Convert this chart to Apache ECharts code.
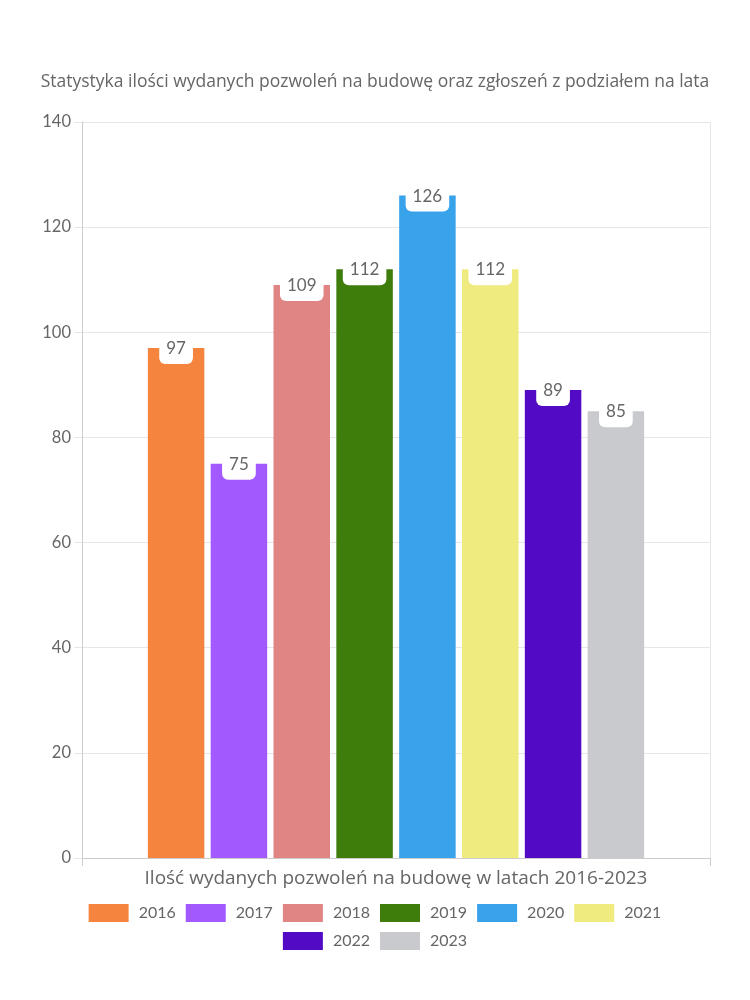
<!DOCTYPE html>
<html><head><meta charset="utf-8">
<script src="https://cdn.jsdelivr.net/npm/echarts@6/dist/echarts.min.js"></script>
<style>html,body{margin:0;padding:0;background:#fff}#c{width:750px;height:1000px}</style>
</head><body><div id="c"></div>
<script>
const titleText = 'Statystyka ilości wydanych pozwoleń na budowę oraz zgłoszeń z podziałem na lata';
const categories = ['Ilość wydanych pozwoleń na budowę w latach 2016-2023'];
const years = ['2016','2017','2018','2019','2020','2021','2022','2023'];
const values = [97, 75, 109, 112, 126, 112, 89, 85];
const colors = ['#F5843F','#A259FD','#E08484','#3E7C0C','#38A3EB','#F0EB7E','#520AC4','#C9CACE'];
const yTicks = {min: 0, max: 140, interval: 20};

const FONT = 'Lato';
const TFONT = 'Open Sans';
const chart = echarts.init(document.getElementById('c'), null, {renderer: 'canvas'});
const series = years.map((y, i) => ({
  name: y,
  type: 'bar',
  data: [values[i]],
  itemStyle: {color: colors[i]},
  barWidth: 56.5,
  barGap: '11.2%',
  label: {
    show: true, position: 'top', distance: -16,
    color: '#666', fontSize: 17, fontFamily: FONT,
    backgroundColor: '#fff', borderRadius: 6, padding: [7, 7]
  }
}));
const legendText = {color: '#666', fontSize: 16, fontFamily: FONT, padding: [0, 0, 0, 5]};
chart.setOption({
  animation: false,
  title: {text: titleText, left: 'center', top: 68,
    textStyle: {color: '#666', fontSize: 17.5, fontWeight: 'normal', fontFamily: TFONT}},
  legend: [
    {data: years.slice(0, 6), left: 'center', top: 899, itemWidth: 40, itemHeight: 18, itemGap: 10,
     icon: 'rect', textStyle: legendText},
    {data: years.slice(6), left: 'center', top: 927, itemWidth: 40, itemHeight: 18, itemGap: 10,
     icon: 'rect', textStyle: legendText}
  ],
  grid: {left: 82, right: 40, top: 122, bottom: 142, containLabel: false},
  xAxis: {
    type: 'category', data: categories,
    axisLine: {show: true, lineStyle: {color: '#ccc'}},
    axisTick: {show: true, length: 8, lineStyle: {color: '#ccc'}},
    splitLine: {show: true, lineStyle: {color: '#e6e6e6'}},
    axisLabel: {color: '#666', fontSize: 19, fontFamily: TFONT, margin: 11}
  },
  yAxis: {
    type: 'value', min: yTicks.min, max: yTicks.max, interval: yTicks.interval,
    axisLine: {show: true, lineStyle: {color: '#ccc'}},
    axisTick: {show: true, length: 8, lineStyle: {color: '#e6e6e6'}},
    splitLine: {show: true, lineStyle: {color: '#e6e6e6'}},
    axisLabel: {color: '#666', fontSize: 16.5, fontFamily: FONT, margin: 11}
  },
  series: series
});
</script></body></html>
